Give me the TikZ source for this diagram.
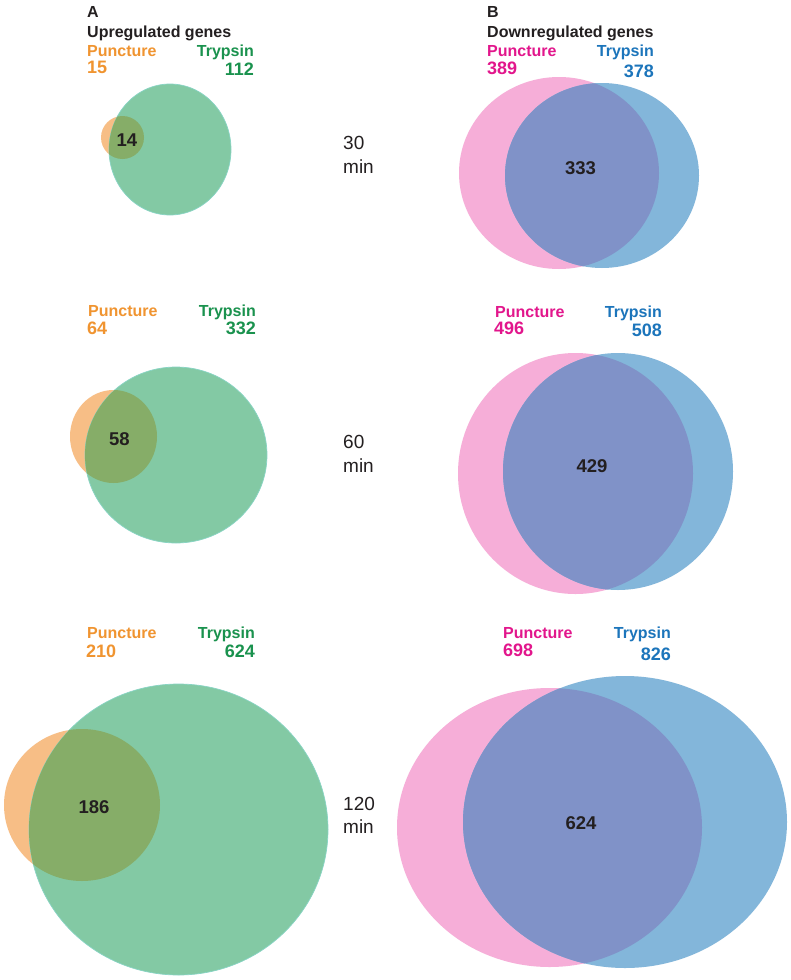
\documentclass[tikz,border=0pt]{standalone}
\usepackage{fontspec}
\setmainfont{Liberation Sans}
\definecolor{txtblack}{RGB}{35,31,32}
\definecolor{ortext}{RGB}{240,148,48}
\definecolor{grtext}{RGB}{26,146,78}
\definecolor{pktext}{RGB}{226,22,140}
\definecolor{bltext}{RGB}{28,117,187}
\definecolor{orfill}{RGB}{247,190,134}
\definecolor{grfill}{RGB}{131,201,164}
\definecolor{gredge}{RGB}{136,212,196}
\definecolor{ovA}{RGB}{134,173,104}
\definecolor{pkfill}{RGB}{246,174,216}
\definecolor{blfill}{RGB}{131,182,218}
\definecolor{ovB}{RGB}{128,146,200}
\tikzset{
  head/.style={anchor=base west,inner sep=0pt,font=\fontsize{16}{18}\selectfont\bfseries,text=txtblack},
  lab/.style={inner sep=0pt,font=\fontsize{16}{18}\selectfont\bfseries},
  num/.style={inner sep=0pt,font=\fontsize{18}{20}\selectfont\bfseries},
  mid/.style={inner sep=0pt,anchor=center,font=\fontsize{18.5}{20}\selectfont\bfseries,text=txtblack},
  tim/.style={anchor=base west,inner sep=0pt,font=\fontsize{19}{22}\selectfont,text=txtblack},
  grline/.style={draw=gredge,line width=0.7pt}
}
\begin{document}
\begin{tikzpicture}[x=1pt,y=-1pt]
\useasboundingbox[fill=white] (0,0) rectangle (791,980);

% ---------- Panel A, 30 min ----------
\fill[orfill] (122.5,137.5) ellipse[x radius=21.5pt,y radius=21.5pt];
\fill[grfill,grline] (170,149.5) ellipse[x radius=61pt,y radius=65.5pt];
\begin{scope}
\clip (122.5,137.5) ellipse[x radius=21.5pt,y radius=21.5pt];
\fill[ovA] (170,149.5) ellipse[x radius=61pt,y radius=65.5pt];
\end{scope}

% ---------- Panel A, 60 min ----------
\fill[orfill] (113.5,436.5) ellipse[x radius=43.5pt,y radius=46.5pt];
\fill[grfill,grline] (176,455) ellipse[x radius=91pt,y radius=88pt];
\begin{scope}
\clip (113.5,436.5) ellipse[x radius=43.5pt,y radius=46.5pt];
\fill[ovA] (176,455) ellipse[x radius=91pt,y radius=88pt];
\end{scope}

% ---------- Panel A, 120 min ----------
\fill[orfill] (82,805) ellipse[x radius=78pt,y radius=76pt];
\fill[grfill,grline] (178.5,829.5) ellipse[x radius=149.5pt,y radius=145.5pt];
\begin{scope}
\clip (82,805) ellipse[x radius=78pt,y radius=76pt];
\fill[ovA] (178.5,829.5) ellipse[x radius=149.5pt,y radius=145.5pt];
\end{scope}

% ---------- Panel B, 30 min ----------
\fill[pkfill] (559,173) ellipse[x radius=100pt,y radius=96pt];
\fill[blfill] (602,175.5) ellipse[x radius=97pt,y radius=92.5pt];
\begin{scope}
\clip (559,173) ellipse[x radius=100pt,y radius=96pt];
\fill[ovB] (602,175.5) ellipse[x radius=97pt,y radius=92.5pt];
\end{scope}

% ---------- Panel B, 60 min ----------
\fill[pkfill] (575.5,473.5) ellipse[x radius=117.5pt,y radius=120.5pt];
\fill[blfill] (618,471.5) ellipse[x radius=115pt,y radius=118.5pt];
\begin{scope}
\clip (575.5,473.5) ellipse[x radius=117.5pt,y radius=120.5pt];
\fill[ovB] (618,471.5) ellipse[x radius=115pt,y radius=118.5pt];
\end{scope}

% ---------- Panel B, 120 min ----------
\fill[pkfill] (549.5,827.5) ellipse[x radius=152.5pt,y radius=139.5pt];
\fill[blfill] (625,822) ellipse[x radius=162pt,y radius=146pt];
\begin{scope}
\clip (549.5,827.5) ellipse[x radius=152.5pt,y radius=139.5pt];
\fill[ovB] (625,822) ellipse[x radius=162pt,y radius=146pt];
\end{scope}

% ---------- Headings ----------
\node[head] (hA) at (87,17) {A};
\node[head] (tA) at (87,37) {Upregulated genes};
\node[head] (hB) at (487,17) {B};
\node[head] (tB) at (487,37) {Downregulated genes};

% ---------- Labels panel A ----------
\node[lab,anchor=base west,text=ortext] (pA1) at (87,56.5) {Puncture};
\node[num,anchor=base west,text=ortext] (npA1) at (87,73.5) {15};
\node[lab,anchor=base east,text=grtext] (tA1) at (254,56.5) {Trypsin};
\node[num,anchor=base east,text=grtext] (ntA1) at (254,75) {112};

\node[lab,anchor=base west,text=ortext] (pA2) at (88,316.5) {Puncture};
\node[num,anchor=base west,text=ortext] (npA2) at (87,334) {64};
\node[lab,anchor=base east,text=grtext] (tA2) at (256,316.5) {Trypsin};
\node[num,anchor=base east,text=grtext] (ntA2) at (256,334.5) {332};

\node[lab,anchor=base west,text=ortext] (pA3) at (87,638.5) {Puncture};
\node[num,anchor=base west,text=ortext] (npA3) at (86,657) {210};
\node[lab,anchor=base east,text=grtext] (tA3) at (255,638.5) {Trypsin};
\node[num,anchor=base east,text=grtext] (ntA3) at (255,657) {624};

% ---------- Labels panel B ----------
\node[lab,anchor=base west,text=pktext] (pB1) at (487,56.5) {Puncture};
\node[num,anchor=base west,text=pktext] (npB1) at (487,74) {389};
\node[lab,anchor=base east,text=bltext] (tB1) at (654,56.5) {Trypsin};
\node[num,anchor=base east,text=bltext] (ntB1) at (654,77) {378};

\node[lab,anchor=base west,text=pktext] (pB2) at (495,317) {Puncture};
\node[num,anchor=base west,text=pktext] (npB2) at (494,334) {496};
\node[lab,anchor=base east,text=bltext] (tB2) at (662,317) {Trypsin};
\node[num,anchor=base east,text=bltext] (ntB2) at (662,336) {508};

\node[lab,anchor=base west,text=pktext] (pB3) at (503,638.5) {Puncture};
\node[num,anchor=base west,text=pktext] (npB3) at (503,656.5) {698};
\node[lab,anchor=base east,text=bltext] (tB3) at (671,638) {Trypsin};
\node[num,anchor=base east,text=bltext] (ntB3) at (671,660) {826};

% ---------- Overlap counts ----------
\node[mid] (oA1) at (127,140) {14};
\node[mid] (oA2) at (119.5,439) {58};
\node[mid] (oA3) at (94,807.5) {186};
\node[mid] (oB1) at (580.5,168.5) {333};
\node[mid] (oB2) at (592,466) {429};
\node[mid] (oB3) at (581,823.5) {624};

% ---------- Time labels ----------
\node[tim] (t30) at (343,149.5) {30};
\node[tim] (m30) at (343,173) {min};
\node[tim] (t60) at (343,448) {60};
\node[tim] (m60) at (343,472) {min};
\node[tim] (t120) at (343,810) {120};
\node[tim] (m120) at (343,833) {min};
\end{tikzpicture}
\end{document}
